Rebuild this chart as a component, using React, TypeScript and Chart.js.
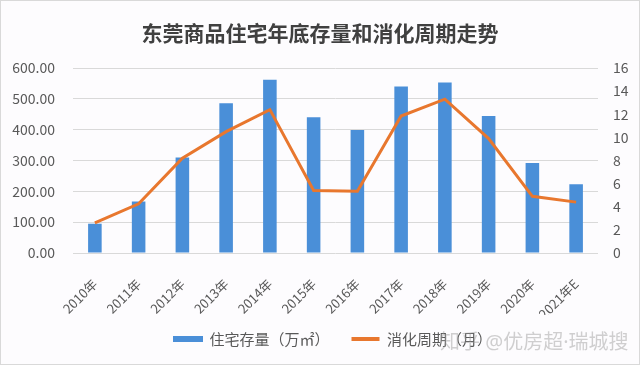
import React, { useEffect, useRef } from "react";
import { Chart, registerables } from "chart.js";

Chart.register(...registerables);

const categories = ["2010年", "2011年", "2012年", "2013年", "2014年", "2015年", "2016年", "2017年", "2018年", "2019年", "2020年", "2021年E"];
const stockValues = [95, 167, 310, 486, 562, 440, 399, 540, 553, 444, 292, 223];
const cycleValues = [2.6, 4.25, 8.2, 10.5, 12.4, 5.4, 5.35, 11.85, 13.3, 9.9, 4.9, 4.4];
const stockLabel = "住宅存量（万㎡）";
const cycleLabel = "消化周期（月）";
const titleText = "东莞商品住宅年底存量和消化周期走势";
const watermark = "知乎 @优房超·瑞城搜";

const FONT = "'Noto Sans CJK SC', 'Noto Sans', sans-serif";
const BLUE = "#4A8FD8";
const ORANGE = "#E8772E";
const TICK = "#595959";

const legendShift = {
  id: "legendShift",
  afterLayout(chart: any) {
    const l = chart.legend;
    if (l) {
      l.left += 13;
      l.right += 13;
      l.top -= 5.5;
      l.bottom -= 5.5;
    }
  },
};

export default function App() {
  const ref = useRef<HTMLCanvasElement | null>(null);

  useEffect(() => {
    if (!ref.current) return;
    const chart = new Chart(ref.current, {
      type: "bar",
      plugins: [legendShift],
      data: {
        labels: categories,
        datasets: [
          {
            type: "line",
            label: cycleLabel,
            data: cycleValues,
            yAxisID: "y1",
            borderColor: ORANGE,
            backgroundColor: ORANGE,
            borderWidth: 3,
            pointRadius: 0,
            tension: 0,
          } as any,
          {
            type: "bar",
            label: stockLabel,
            data: stockValues,
            yAxisID: "y",
            backgroundColor: BLUE,
            borderWidth: 0,
            barPercentage: 0.31,
            categoryPercentage: 1,
          } as any,
        ],
      },
      options: {
        responsive: false,
        animation: false,
        layout: { padding: { left: 0, right: 0, top: 0, bottom: 2 } },
        plugins: {
          tooltip: { enabled: false },
          title: {
            display: true,
            text: titleText,
            color: "#404040",
            font: { family: FONT, size: 21, weight: "bold", lineHeight: 1.2 },
            padding: { top: 19.4, bottom: 22.4 },
          },
          legend: {
            display: true,
            position: "bottom",
            labels: {
              color: TICK,
              font: { family: FONT, size: 15 },
              boxWidth: 28,
              boxHeight: 4,
              padding: 22,
              generateLabels: () => [
                {
                  text: stockLabel,
                  fillStyle: BLUE,
                  strokeStyle: BLUE,
                  lineWidth: 2,
                  fontColor: TICK,
                  datasetIndex: 1,
                  hidden: false,
                } as any,
                {
                  text: cycleLabel,
                  fillStyle: ORANGE,
                  strokeStyle: ORANGE,
                  lineWidth: 0,
                  fontColor: TICK,
                  datasetIndex: 0,
                  hidden: false,
                } as any,
              ],
            },
          },
        },
        scales: {
          x: {
            grid: { display: false },
            border: { display: false },
            ticks: {
              color: TICK,
              font: { family: FONT, size: 13 },
              minRotation: 45,
              maxRotation: 45,
              autoSkip: false,
              padding: 15,
            },
            afterFit: (s: any) => {
              s.height = 62;
            },
          },
          y: {
            position: "left",
            min: 0,
            max: 600,
            grid: { color: "#D9D9D9", drawTicks: false, lineWidth: 1 },
            border: { display: false },
            ticks: {
              stepSize: 100,
              color: TICK,
              font: { family: FONT, size: 14 },
              padding: 18,
              callback: (v: any) => Number(v).toFixed(2),
            },
            afterFit: (s: any) => {
              s.width = 72;
            },
          },
          y1: {
            position: "right",
            min: 0,
            max: 16,
            grid: { display: false, drawTicks: false },
            border: { display: false },
            ticks: {
              stepSize: 2,
              color: TICK,
              font: { family: FONT, size: 14 },
              padding: 15,
            },
            afterFit: (s: any) => {
              s.width = 41;
            },
          },
        },
      },
    });
    return () => chart.destroy();
  }, []);

  return (
    <div
      style={{
        position: "fixed",
        left: 0,
        top: 0,
        width: 640,
        height: 365,
        boxSizing: "border-box",
        border: "1px solid #D9D9D9",
        background: "#FDFCFE",
        overflow: "hidden",
      }}
    >
      <canvas ref={ref} width={638} height={363} style={{ display: "block" }} />
      <span
        style={{
          position: "absolute",
          left: 439,
          top: 327,
          fontFamily: "'Noto Sans', 'Noto Sans CJK SC', sans-serif",
          fontSize: 20,
          lineHeight: "28px",
          color: "rgba(150,150,150,0.45)",
          whiteSpace: "nowrap",
          pointerEvents: "none",
        }}
      >
        {watermark}
      </span>
    </div>
  );
}
